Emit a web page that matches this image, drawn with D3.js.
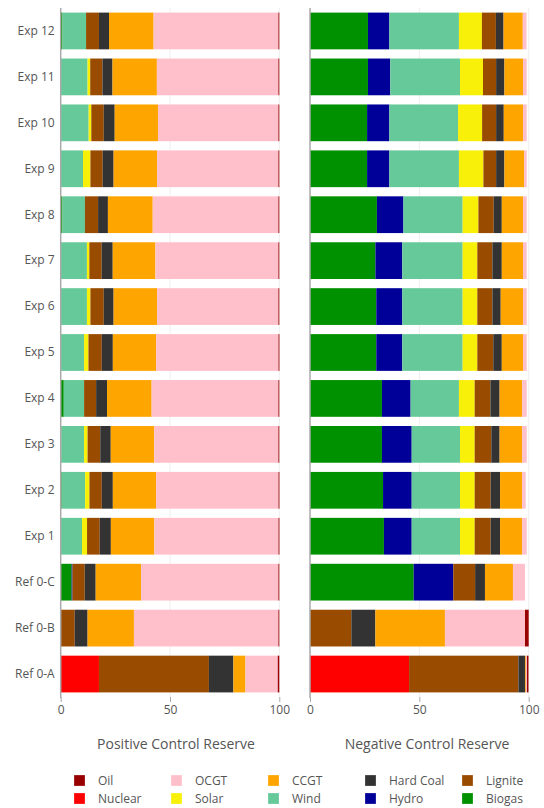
<!DOCTYPE html>
<html><head><meta charset="utf-8">
<script src="https://cdn.jsdelivr.net/npm/d3@7/dist/d3.min.js"></script>
<style>body{margin:0;background:#fff}svg{display:block}text{font-family:"Open Sans",Arial,sans-serif}</style>
</head><body><svg id="c" width="544" height="808"></svg>
<script>
const categories = ["Exp 12","Exp 11","Exp 10","Exp 9","Exp 8","Exp 7","Exp 6","Exp 5","Exp 4","Exp 3","Exp 2","Exp 1","Ref 0-C","Ref 0-B","Ref 0-A"];
const seriesNames = ["Nuclear","Biogas","Hydro","Wind","Solar","Lignite","Hard Coal","CCGT","OCGT","Oil"];
const xTicks = [0, 50, 100];
const panelTitles = ["Positive Control Reserve", "Negative Control Reserve"];
const legendRows = [["Oil","OCGT","CCGT","Hard Coal","Lignite"],["Nuclear","Solar","Wind","Hydro","Biogas"]];

// Positive control reserve (%)
const posNuclear  = [0,0,0,0,0,0,0,0,0,0,0,0,0,0,17.5];
const posBiogas   = [0.8,0,0,0,0.8,0,0,0,1.4,0.3,0.45,0,5.0,0,0];
const posHydro    = [0,0,0,0,0,0,0,0,0,0,0,0,0.4,0,0];
const posWind     = [10.8,12.3,12.8,10.2,10.3,12.0,12.0,10.7,9.3,10.4,10.7,9.75,0,0,0];
const posSolar    = [0,1.2,1.2,3.4,0,1.1,1.6,2.0,0,1.6,2.0,2.3,0,0,0];
const posLignite  = [5.9,5.6,5.7,5.6,6.0,5.65,6.1,6.1,5.5,5.8,5.65,5.8,5.6,6.4,50.3];
const posHardCoal = [4.6,4.6,5.0,5.0,4.5,5.05,4.5,5.05,5.0,4.8,5.05,5.1,5.0,5.9,11.2];
const posCCGT     = [20.4,20.3,19.8,19.9,20.5,19.5,19.9,19.8,20.4,19.9,19.8,19.9,20.8,21.2,5.5];
const posOCGT     = [57.1,55.6,55.1,55.5,57.5,56.3,55.5,56.0,58.0,56.8,56.0,56.8,62.8,66.1,14.8];
const posOil      = [0.4,0.4,0.4,0.4,0.4,0.4,0.4,0.4,0.4,0.4,0.4,0.4,0.4,0.4,0.7];

// Negative control reserve (%)
const negNuclear  = [0,0,0,0,0,0,0,0,0,0,0,0,0,0,45.3];
const negBiogas   = [26.5,26.5,26.1,26.1,30.6,29.9,30.3,30.3,32.9,32.9,33.4,33.8,47.4,0,0];
const negHydro    = [9.8,10.2,10.2,10.2,12.1,12.3,11.9,11.9,13.1,13.6,13.1,12.7,18.1,0,0];
const negWind     = [31.8,31.9,31.4,31.8,27.1,27.6,27.6,27.6,22.1,22.1,22.1,22.1,0,0,0];
const negSolar    = [10.5,10.5,11.0,11.2,7.2,6.7,6.7,6.7,7.2,6.7,6.7,6.7,0,0,0];
const negLignite  = [6.4,6.0,6.4,5.8,7.0,6.9,6.9,7.3,7.2,7.6,7.3,7.3,10.0,18.9,50.0];
const negHardCoal = [3.5,3.8,3.5,3.8,3.7,4.3,3.8,3.9,4.2,3.8,4.3,4.3,4.5,11.0,3.0];
const negCCGT     = [8.8,8.5,8.8,9.0,9.7,9.7,10.2,9.7,10.3,10.3,10.1,10.1,12.8,31.8,0.4];
const negOCGT     = [1.7,1.7,1.7,1.2,1.7,1.7,1.7,1.7,2.1,2.1,1.6,2.1,5.5,36.6,0.5];
const negOil      = [0,0,0,0,0,0,0,0,0,0,0,0,0,1.7,0.7];

const colors = {"Oil":"#990000","Nuclear":"#ff0000","OCGT":"#ffc0cb","Solar":"#f9f00a","CCGT":"#ffa500","Wind":"#66c999","Hard Coal":"#333333","Hydro":"#000099","Lignite":"#994c00","Biogas":"#009100"};

const posSeries = [posNuclear,posBiogas,posHydro,posWind,posSolar,posLignite,posHardCoal,posCCGT,posOCGT,posOil];
const negSeries = [negNuclear,negBiogas,negHydro,negWind,negSolar,negLignite,negHardCoal,negCCGT,negOCGT,negOil];

function toRows(series){
  return categories.map((c,i)=>{const o={cat:c}; seriesNames.forEach((s,j)=>o[s]=series[j][i]); return o;});
}

const svg = d3.select("#c");
const plotTop = 8, plotBottom = 697;
const y = d3.scaleBand().domain(categories).range([plotTop,plotBottom]).paddingInner(0.2).paddingOuter(0.1);
const panels = [
  {rows: toRows(posSeries), x: d3.scaleLinear().domain([0,100]).range([60.7,279.3]), title: panelTitles[0], tx: 176},
  {rows: toRows(negSeries), x: d3.scaleLinear().domain([0,100]).range([310,528.7]), title: panelTitles[1], tx: 427}
];
const stack = d3.stack().keys(seriesNames);

panels.forEach((p,pi)=>{
  const g = svg.append("g");
  g.selectAll("line.grid").data(xTicks.filter(t=>t!==0)).join("line")
    .attr("x1",d=>p.x(d)).attr("x2",d=>p.x(d)).attr("y1",plotTop).attr("y2",plotBottom)
    .attr("stroke","#eeeeee").attr("stroke-width",1);
  const layers = stack(p.rows);
  layers.forEach(layer=>{
    g.append("g").attr("fill",colors[layer.key]).selectAll("rect").data(layer).join("rect")
      .attr("x",d=>p.x(d[0])).attr("width",d=>Math.max(0,p.x(d[1])-p.x(d[0])))
      .attr("y",d=>y(d.data.cat)).attr("height",y.bandwidth());
  });
  g.append("line").attr("x1",p.x(0)).attr("x2",p.x(0)).attr("y1",plotTop).attr("y2",plotBottom+1)
    .attr("stroke","#aaaaaa").attr("stroke-width",1.5);
  const ax = g.append("g").attr("transform",`translate(0,${plotBottom})`)
    .call(d3.axisBottom(p.x).tickValues(xTicks).tickSize(5).tickSizeOuter(0).tickPadding(3));
  ax.select(".domain").remove();
  ax.selectAll(".tick line").attr("stroke","#aaaaaa");
  ax.selectAll(".tick text").attr("fill","#555").style("font-size","12px").style("font-family","'Open Sans', Arial, sans-serif");
  g.append("text").attr("x",p.tx).attr("y",749).attr("text-anchor","middle")
    .attr("fill","#555").style("font-size","14px").text(p.title);
  if(pi===0){
    const ay = g.append("g").attr("transform",`translate(${p.x(0)-2},0)`)
      .call(d3.axisLeft(y).tickSize(0).tickPadding(4));
    ay.select(".domain").remove();
    ay.selectAll(".tick text").attr("fill","#555").style("font-size","12px").style("font-family","'Open Sans', Arial, sans-serif");
  }
});

const lg = svg.append("g");
legendRows.forEach((row,ri)=>{
  row.forEach((name,ci)=>{
    const gx = 74 + ci*97, gy = 775 + ri*18;
    lg.append("rect").attr("x",gx).attr("y",gy).attr("width",11).attr("height",11)
      .attr("fill",colors[name]).attr("stroke","#ffffff").attr("stroke-opacity",0.5).attr("stroke-width",0.5);
    lg.append("text").attr("x",gx+24).attr("y",gy+10).attr("fill","#555").style("font-size","12px").text(name);
  });
});
</script></body></html>
